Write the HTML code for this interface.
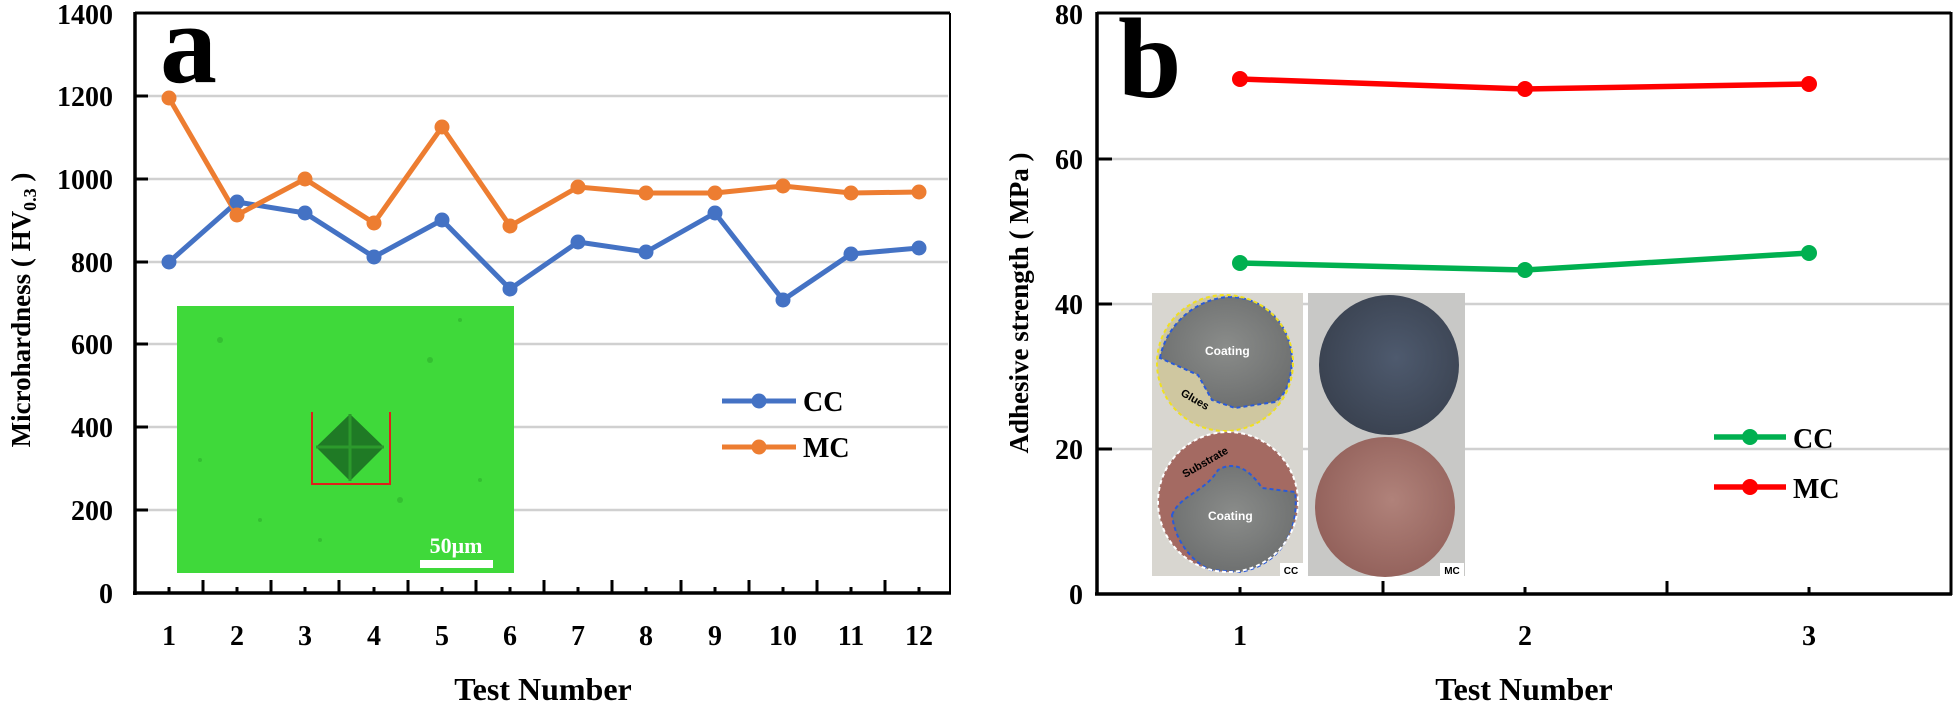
<!DOCTYPE html>
<html><head><meta charset="utf-8"><style>
html,body{margin:0;padding:0;background:#fff;}
svg{display:block;}
text{font-family:"Liberation Serif",serif;font-weight:bold;fill:#000;}
</style></head><body>
<svg width="1956" height="705" viewBox="0 0 1956 705" xmlns="http://www.w3.org/2000/svg">
<defs>
<radialGradient id="gy" cx="50%" cy="45%" r="60%"><stop offset="0" stop-color="#8a8c8a"/><stop offset="1" stop-color="#6c6e6e"/></radialGradient>
<radialGradient id="bl" cx="55%" cy="45%" r="60%"><stop offset="0" stop-color="#4e5a6e"/><stop offset="1" stop-color="#39414f"/></radialGradient>
<radialGradient id="rd" cx="55%" cy="45%" r="60%"><stop offset="0" stop-color="#b0827a"/><stop offset="1" stop-color="#92605a"/></radialGradient>
</defs>

<g stroke="#d0d0d0" stroke-width="2.5">
<line x1="137" y1="96" x2="948" y2="96"/>
<line x1="137" y1="179" x2="948" y2="179"/>
<line x1="137" y1="262" x2="948" y2="262"/>
<line x1="137" y1="344" x2="948" y2="344"/>
<line x1="137" y1="427" x2="948" y2="427"/>
<line x1="137" y1="510" x2="948" y2="510"/>
</g>
<rect x="177" y="306" width="337" height="267" fill="#3fd93a"/>
<g fill="#2aa82a" opacity="0.5">
<circle cx="220" cy="340" r="3"/><circle cx="260" cy="520" r="2"/><circle cx="430" cy="360" r="3"/><circle cx="480" cy="480" r="2"/><circle cx="200" cy="460" r="2"/><circle cx="320" cy="540" r="2"/><circle cx="460" cy="320" r="2"/><circle cx="400" cy="500" r="3"/>
</g>
<polygon points="350,414 384,447 350,481 316,447" fill="#1f7a25"/>
<line x1="316" y1="447" x2="384" y2="447" stroke="#2c9a2c" stroke-width="3"/>
<line x1="350" y1="414" x2="350" y2="481" stroke="#2c9a2c" stroke-width="3"/>
<polyline points="312,412 312,484 390,484 390,412" fill="none" stroke="#e0201a" stroke-width="2"/>
<rect x="420" y="560" width="73" height="8" fill="#fff"/>
<text x="456" y="553" font-size="22" text-anchor="middle" style="fill:#fff">50μm</text>

<line x1="135" y1="13" x2="950" y2="13" stroke="#000" stroke-width="3"/>
<line x1="950" y1="13" x2="950" y2="593" stroke="#000" stroke-width="2"/>
<line x1="135" y1="12" x2="135" y2="595" stroke="#000" stroke-width="3.5"/>
<line x1="133" y1="593" x2="951" y2="593" stroke="#000" stroke-width="3.5"/>
<g stroke="#000" stroke-width="3">
<line x1="135" y1="96" x2="148" y2="96"/><line x1="135" y1="179" x2="148" y2="179"/><line x1="135" y1="262" x2="148" y2="262"/><line x1="135" y1="344" x2="148" y2="344"/><line x1="135" y1="427" x2="148" y2="427"/><line x1="135" y1="510" x2="148" y2="510"/>
<line x1="203" y1="593" x2="203" y2="580"/><line x1="271" y1="593" x2="271" y2="580"/><line x1="339" y1="593" x2="339" y2="580"/><line x1="408" y1="593" x2="408" y2="580"/><line x1="476" y1="593" x2="476" y2="580"/><line x1="544" y1="593" x2="544" y2="580"/><line x1="612" y1="593" x2="612" y2="580"/><line x1="681" y1="593" x2="681" y2="580"/><line x1="749" y1="593" x2="749" y2="580"/><line x1="817" y1="593" x2="817" y2="580"/><line x1="885" y1="593" x2="885" y2="580"/>
<line x1="169" y1="593" x2="169" y2="587"/><line x1="237" y1="593" x2="237" y2="587"/><line x1="305" y1="593" x2="305" y2="587"/><line x1="374" y1="593" x2="374" y2="587"/><line x1="442" y1="593" x2="442" y2="587"/><line x1="510" y1="593" x2="510" y2="587"/><line x1="578" y1="593" x2="578" y2="587"/><line x1="646" y1="593" x2="646" y2="587"/><line x1="715" y1="593" x2="715" y2="587"/><line x1="783" y1="593" x2="783" y2="587"/><line x1="851" y1="593" x2="851" y2="587"/><line x1="919" y1="593" x2="919" y2="587"/>
</g>
<g font-size="28" text-anchor="end">
<text x="113" y="24">1400</text><text x="113" y="106">1200</text><text x="113" y="189">1000</text><text x="113" y="272">800</text><text x="113" y="354">600</text><text x="113" y="437">400</text><text x="113" y="520">200</text><text x="113" y="603">0</text>
</g>
<g font-size="28" text-anchor="middle">
<text x="169" y="645">1</text><text x="237" y="645">2</text><text x="305" y="645">3</text><text x="374" y="645">4</text><text x="442" y="645">5</text><text x="510" y="645">6</text><text x="578" y="645">7</text><text x="646" y="645">8</text><text x="715" y="645">9</text><text x="783" y="645">10</text><text x="851" y="645">11</text><text x="919" y="645">12</text>
</g>
<text x="543" y="700" font-size="32" text-anchor="middle">Test Number</text>
<text transform="translate(30,310) rotate(-90)" font-size="27" text-anchor="middle">Microhardness ( HV<tspan font-size="18" dy="6">0.3</tspan><tspan dy="-6"> )</tspan></text>
<text x="160" y="82" font-size="114">a</text>

<g fill="none" stroke-width="5" stroke-linejoin="round">
<polyline stroke="#4472C4" points="169,262 237,202 305,213 374,257 442,220 510,289 578,242 646,252 715,213 783,300 851,254 919,248"/>
<polyline stroke="#ED7D31" points="169,98 237,215 305,179 374,223 442,127 510,226 578,187 646,193 715,193 783,186 851,193 919,192"/>
</g>
<g fill="#4472C4">
<circle cx="169" cy="262" r="7.5"/><circle cx="237" cy="202" r="7.5"/><circle cx="305" cy="213" r="7.5"/><circle cx="374" cy="257" r="7.5"/><circle cx="442" cy="220" r="7.5"/><circle cx="510" cy="289" r="7.5"/><circle cx="578" cy="242" r="7.5"/><circle cx="646" cy="252" r="7.5"/><circle cx="715" cy="213" r="7.5"/><circle cx="783" cy="300" r="7.5"/><circle cx="851" cy="254" r="7.5"/><circle cx="919" cy="248" r="7.5"/>
</g>
<g fill="#ED7D31">
<circle cx="169" cy="98" r="7.5"/><circle cx="237" cy="215" r="7.5"/><circle cx="305" cy="179" r="7.5"/><circle cx="374" cy="223" r="7.5"/><circle cx="442" cy="127" r="7.5"/><circle cx="510" cy="226" r="7.5"/><circle cx="578" cy="187" r="7.5"/><circle cx="646" cy="193" r="7.5"/><circle cx="715" cy="193" r="7.5"/><circle cx="783" cy="186" r="7.5"/><circle cx="851" cy="193" r="7.5"/><circle cx="919" cy="192" r="7.5"/>
</g>
<line x1="722" y1="401" x2="796" y2="401" stroke="#4472C4" stroke-width="5"/><circle cx="759" cy="401" r="7.5" fill="#4472C4"/>
<text x="803" y="411" font-size="28">CC</text>
<line x1="722" y1="447" x2="796" y2="447" stroke="#ED7D31" stroke-width="5"/><circle cx="759" cy="447" r="7.5" fill="#ED7D31"/>
<text x="803" y="457" font-size="28">MC</text>

<g stroke="#d0d0d0" stroke-width="2.5">
<line x1="1099" y1="159" x2="1949" y2="159"/>
<line x1="1099" y1="304" x2="1949" y2="304"/>
<line x1="1099" y1="449" x2="1949" y2="449"/>
</g>
<rect x="1152" y="293" width="151" height="283" fill="#d8d6d0"/>
<rect x="1308" y="293" width="157" height="283" fill="#c8c8c6"/>
<circle cx="1225" cy="363" r="68" fill="#cfc7a0"/>
<path d="M1160,358 C1165,330 1190,300 1228,297 C1270,297 1292,330 1292,362 C1290,385 1285,395 1275,402 L1235,408 L1212,400 L1198,375 L1160,358 Z" fill="url(#gy)" stroke="#2a5ad8" stroke-width="2" stroke-dasharray="4,3"/>
<circle cx="1225" cy="363" r="68" fill="none" stroke="#f0e020" stroke-width="2" stroke-dasharray="4,3"/>
<circle cx="1228" cy="502" r="70" fill="#a46a62"/>
<path d="M1172,515 C1180,495 1205,492 1218,470 C1235,460 1250,470 1262,488 L1295,492 C1300,530 1280,565 1240,572 L1210,570 C1190,560 1175,540 1172,515 Z" fill="url(#gy)" stroke="#2a5ad8" stroke-width="2" stroke-dasharray="4,3"/>
<circle cx="1228" cy="502" r="70" fill="none" stroke="#fff" stroke-width="2" stroke-dasharray="4,3"/>
<circle cx="1389" cy="365" r="70" fill="url(#bl)"/>
<circle cx="1385" cy="507" r="70" fill="url(#rd)"/>
<text x="1205" y="355" font-size="12" style="fill:#fff;font-family:'Liberation Sans',sans-serif">Coating</text>
<text x="1208" y="520" font-size="12" style="fill:#fff;font-family:'Liberation Sans',sans-serif">Coating</text>
<text transform="translate(1180,395) rotate(30)" font-size="11" style="font-family:'Liberation Sans',sans-serif">Glues</text>
<text transform="translate(1185,478) rotate(-30)" font-size="11" style="font-family:'Liberation Sans',sans-serif">Substrate</text>
<rect x="1280" y="563" width="23" height="13" fill="#fff"/><text x="1291" y="574" font-size="10" text-anchor="middle" style="font-family:'Liberation Sans',sans-serif">CC</text>
<rect x="1440" y="563" width="24" height="13" fill="#fff"/><text x="1452" y="574" font-size="10" text-anchor="middle" style="font-family:'Liberation Sans',sans-serif">MC</text>

<line x1="1097" y1="13" x2="1951" y2="13" stroke="#000" stroke-width="3"/>
<line x1="1951" y1="12" x2="1951" y2="595" stroke="#000" stroke-width="3"/>
<line x1="1097" y1="12" x2="1097" y2="595" stroke="#000" stroke-width="3.5"/>
<line x1="1095" y1="594" x2="1952" y2="594" stroke="#000" stroke-width="3.5"/>
<g stroke="#000" stroke-width="3">
<line x1="1097" y1="159" x2="1112" y2="159"/><line x1="1097" y1="304" x2="1112" y2="304"/><line x1="1097" y1="449" x2="1112" y2="449"/>
<line x1="1383" y1="594" x2="1383" y2="581"/><line x1="1667" y1="594" x2="1667" y2="581"/>
<line x1="1240" y1="594" x2="1240" y2="587"/><line x1="1525" y1="594" x2="1525" y2="587"/><line x1="1809" y1="594" x2="1809" y2="587"/>
</g>
<g font-size="28" text-anchor="end">
<text x="1083" y="24">80</text><text x="1083" y="169">60</text><text x="1083" y="314">40</text><text x="1083" y="459">20</text><text x="1083" y="604">0</text>
</g>
<g font-size="28" text-anchor="middle">
<text x="1240" y="645">1</text><text x="1525" y="645">2</text><text x="1809" y="645">3</text>
</g>
<text x="1524" y="700" font-size="32" text-anchor="middle">Test Number</text>
<text transform="translate(1028,303) rotate(-90)" font-size="27" text-anchor="middle">Adhesive strength ( MPa )</text>
<text x="1118" y="97" font-size="114">b</text>

<g fill="none" stroke-width="5.5" stroke-linejoin="round">
<polyline stroke="#FF0000" points="1240,79 1525,89 1809,84"/>
<polyline stroke="#00B050" points="1240,263 1525,270 1809,253"/>
</g>
<g fill="#FF0000"><circle cx="1240" cy="79" r="8"/><circle cx="1525" cy="89" r="8"/><circle cx="1809" cy="84" r="8"/></g>
<g fill="#00B050"><circle cx="1240" cy="263" r="8"/><circle cx="1525" cy="270" r="8"/><circle cx="1809" cy="253" r="8"/></g>
<line x1="1714" y1="437" x2="1786" y2="437" stroke="#00B050" stroke-width="5.5"/><circle cx="1750" cy="437" r="8" fill="#00B050"/>
<text x="1793" y="448" font-size="28">CC</text>
<line x1="1714" y1="487" x2="1786" y2="487" stroke="#FF0000" stroke-width="5.5"/><circle cx="1750" cy="487" r="8" fill="#FF0000"/>
<text x="1793" y="498" font-size="28">MC</text>
</svg>
</body></html>
